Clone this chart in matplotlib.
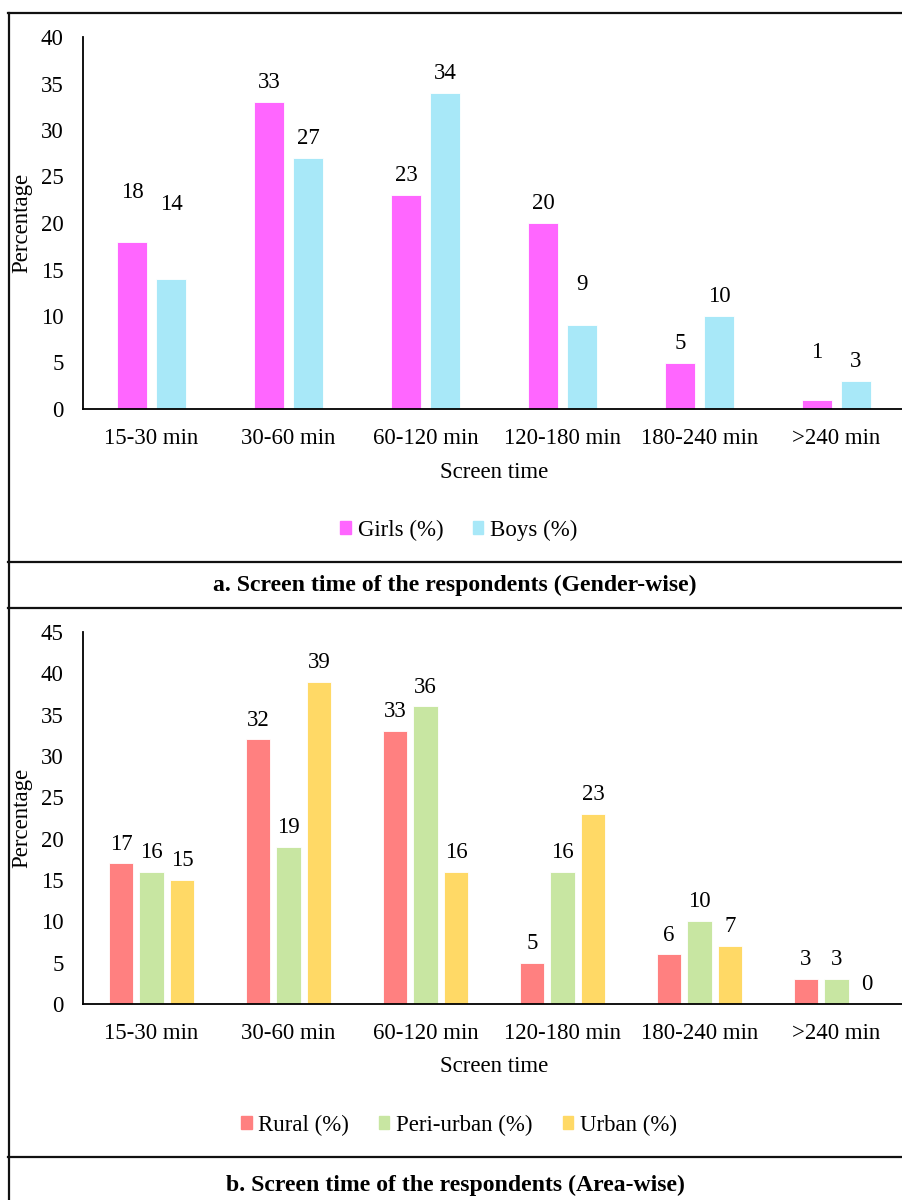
import matplotlib
matplotlib.use("Agg")
import matplotlib.pyplot as plt
from matplotlib.lines import Line2D
from matplotlib.patches import Patch
import numpy as np

# ---- data ----
categories = ["15-30 min", "30-60 min", "60-120 min", "120-180 min", "180-240 min", ">240 min"]
girls = [18, 33, 23, 20, 5, 1]
boys = [14, 27, 34, 9, 10, 3]
rural = [17, 32, 33, 5, 6, 3]
peri_urban = [16, 19, 36, 16, 10, 3]
urban = [15, 39, 16, 23, 7, 0]

gender_ticks = [0, 5, 10, 15, 20, 25, 30, 35, 40]
area_ticks = [0, 5, 10, 15, 20, 25, 30, 35, 40, 45]

caption_a = "a. Screen time of the respondents (Gender-wise)"
caption_b = "b. Screen time of the respondents (Area-wise)"

# ---- style ----
FONT = "Liberation Serif"
FS = 16.5
plt.rcParams["font.family"] = [FONT, "DejaVu Serif"]
plt.rcParams["font.size"] = FS

W, H = 903, 1200
DPI = 100
fig = plt.figure(figsize=(W / DPI, H / DPI), dpi=DPI)

# a few data labels sit higher than the default gap (extra lift, pixels)
label_lift_a = {(0, 0): 30, (1, 0): 55, (1, 3): 21, (0, 5): 28}
label_lift_b = {}


def px_rect(left, top, right, bottom):
    return [left / W, 1 - bottom / H, (right - left) / W, (bottom - top) / H]


def style_axes(ax, ticks):
    ax.set_xlim(-0.5, len(categories) - 0.5)
    ax.set_ylim(ticks[0], ticks[-1])
    ax.set_yticks(ticks)
    ax.set_xticks(np.arange(len(categories)))
    ax.set_xticklabels(categories)
    for s in ("top", "right"):
        ax.spines[s].set_visible(False)
    for s in ("left", "bottom"):
        ax.spines[s].set_linewidth(1.3)
        ax.spines[s].set_color("black")
    ax.tick_params(axis="y", length=0, pad=14, labelsize=FS)
    ax.tick_params(axis="x", length=0, pad=13.5, labelsize=FS)
    ax.set_xlabel("Screen time", fontsize=FS)
    ax.set_ylabel("Percentage", fontsize=FS)
    ax.xaxis.label.set_va("center")
    ax.yaxis.label.set_va("center")


def bar_group(ax, series, colors, width, step, lift):
    x = np.arange(len(categories))
    n = len(series)
    for i, (vals, col) in enumerate(zip(series, colors)):
        offs = (i - (n - 1) / 2) * step
        bars = ax.bar(x + offs, vals, width=width, color=col, edgecolor="white",
                      linewidth=0.6, zorder=2)
        for j, (b, v) in enumerate(zip(bars, vals)):
            dy = 10 + lift.get((i, j), 0) * 72 / DPI
            ax.annotate(f"{v}", (b.get_x() + b.get_width() / 2, v),
                        xytext=(0, dy), textcoords="offset points",
                        ha="center", va="baseline", fontsize=FS)


# ---- panel a: gender ----
c_girls, c_boys = "#FF66FF", "#A8E8F8"
ax1 = fig.add_axes(px_rect(83, 37, 905, 409))
bar_group(ax1, [girls, boys], [c_girls, c_boys], width=0.22, step=0.285,
          lift=label_lift_a)
style_axes(ax1, gender_ticks)
ax1.xaxis.set_label_coords(0.5, (409 - 472) / 372)
ax1.yaxis.set_label_coords(-(83 - 22) / 822, 0.5)

fig.legend(handles=[Patch(color=c_girls, label="Girls (%)"),
                    Patch(color=c_boys, label="Boys (%)")],
           loc="center", bbox_to_anchor=(459 / W, 1 - 530 / H), ncol=2,
           frameon=False, fontsize=FS, handlelength=0.45, handleheight=0.45,
           handletextpad=0.3, columnspacing=1.3)

# ---- panel b: area ----
c_rural, c_peri, c_urban = "#FF8080", "#C8E6A2", "#FFD966"
ax2 = fig.add_axes(px_rect(83, 632, 905, 1004))
bar_group(ax2, [rural, peri_urban, urban], [c_rural, c_peri, c_urban],
          width=0.18, step=0.223, lift=label_lift_b)
style_axes(ax2, area_ticks)
ax2.xaxis.set_label_coords(0.5, (1004 - 1066) / 372)
ax2.yaxis.set_label_coords(-(83 - 22) / 822, 0.5)

fig.legend(handles=[Patch(color=c_rural, label="Rural (%)"),
                    Patch(color=c_peri, label="Peri-urban (%)"),
                    Patch(color=c_urban, label="Urban (%)")],
           loc="center", bbox_to_anchor=(459 / W, 1 - 1125 / H), ncol=3,
           frameon=False, fontsize=FS, handlelength=0.45, handleheight=0.45,
           handletextpad=0.3, columnspacing=1.3)

# ---- captions ----
CAP_FS = 17.1
fig.text(455 / W, 1 - 585 / H, caption_a, ha="center", va="center",
         fontsize=CAP_FS, fontweight="bold")
fig.text(455 / W, 1 - 1185 / H, caption_b, ha="center", va="center",
         fontsize=CAP_FS, fontweight="bold")

# ---- table-style frame ----
lw = 1.6
col = "#111111"
fig.add_artist(Line2D([8.5 / W, 8.5 / W], [1 - 13 / H, 0], color=col, lw=lw))
for y in (13, 562, 608, 1157):
    fig.add_artist(Line2D([8 / W, 1], [1 - y / H, 1 - y / H], color=col, lw=lw))

fig.savefig("out.png", dpi=DPI, facecolor="white")
